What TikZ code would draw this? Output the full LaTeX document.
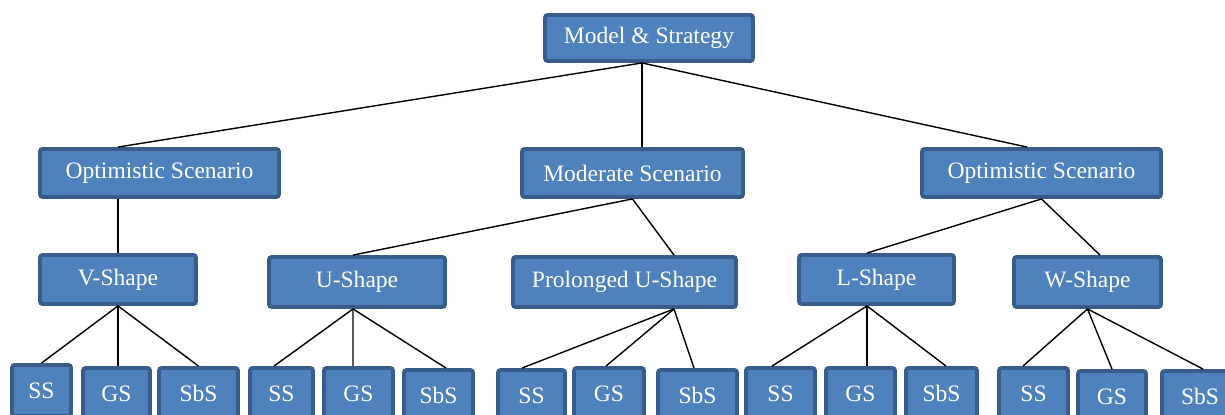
\documentclass[tikz,border=0pt]{standalone}
\usepackage{fontspec}
\setmainfont{Liberation Serif}
\usetikzlibrary{calc}

\definecolor{boxfill}{HTML}{4F81BD}
\definecolor{boxline}{HTML}{385D8A}

\tikzset{
  box/.style={draw=boxline, fill=boxfill, line width=2.2pt, rounded corners=1.5pt,
    text=white, font=\fontsize{13.4}{16}\selectfont, inner sep=0pt},
  leaf/.style={box, minimum height=1.02cm},
  link/.style={black, line width=0.8pt}
}

\begin{document}
\begin{tikzpicture}[x=0.02cm, y=-0.02cm]

\useasboundingbox (0,0) rectangle (1225,415);
\clip (0,0) rectangle (1225,415);

% ── Root and scenarios ──
\node[box, minimum width=4.16cm, minimum height=0.92cm] (root) at (649,38) {Model \& Strategy};
\node[box, minimum width=4.78cm, minimum height=0.96cm] (optL) at (159.5,173) {Optimistic Scenario};
\node[box, minimum width=4.42cm, minimum height=0.96cm] (mod)  at (632.5,173) {Moderate Scenario};
\node[box, minimum width=4.78cm, minimum height=0.96cm] (optR) at (1041.5,173) {Optimistic Scenario};

% ── Recovery shapes ──
\node[box, minimum width=3.12cm, minimum height=0.98cm] (vsh)  at (118,279.5) {V-Shape};
\node[box, minimum width=3.52cm, minimum height=1.00cm] (ush)  at (357,282) {U-Shape};
\node[box, minimum width=4.46cm, minimum height=1.00cm] (push) at (624.5,282) {Prolonged U-Shape};
\node[box, minimum width=3.10cm, minimum height=0.98cm] (lsh)  at (876.5,279.5) {L-Shape};
\node[box, minimum width=2.94cm, minimum height=1.00cm] (wsh)  at (1087.5,282) {W-Shape};

% ── Strategies ──
\node[leaf, minimum width=1.18cm] (vss)  at (41.5,390.5)  {SS};
\node[leaf, minimum width=1.34cm] (vgs)  at (116.5,393.5) {GS};
\node[leaf, minimum width=1.58cm] (vsbs) at (198.5,393.5) {SbS};

\node[leaf, minimum width=1.26cm] (uss)  at (281.5,393.5) {SS};
\node[leaf, minimum width=1.38cm] (ugs)  at (358.5,393.5) {GS};
\node[leaf, minimum width=1.38cm] (usbs) at (438.5,395.5) {SbS};

\node[leaf, minimum width=1.34cm] (pss)  at (531.5,395.5) {SS};
\node[leaf, minimum width=1.40cm] (pgs)  at (609,393.5)   {GS};
\node[leaf, minimum width=1.58cm] (psbs) at (697.5,395.5) {SbS};

\node[leaf, minimum width=1.38cm] (lss)  at (780.5,393.5) {SS};
\node[leaf, minimum width=1.38cm] (lgs)  at (860.5,393.5) {GS};
\node[leaf, minimum width=1.42cm] (lsbs) at (941.5,393.5) {SbS};

\node[leaf, minimum width=1.38cm] (wss)  at (1033.5,393.5) {SS};
\node[leaf, minimum width=1.36cm] (wgs)  at (1112,396.5)   {GS};
\node[leaf, minimum width=1.52cm] (wsbs) at (1200,396.5)   {SbS};

% ── Hub points ──
\coordinate (rhub) at ([xshift=-0.14cm]root.south);
\coordinate (phub) at ([xshift=0.99cm]push.south);
\coordinate (lhub) at ([xshift=-0.19cm]lsh.south);

% ── Connectors ──
\draw[link] (rhub) -- (optL.north -| vsh.north);
\draw[link] (rhub) -- (rhub |- mod.north);
\draw[link] (rhub) -- ([xshift=-0.29cm]optR.north);

\draw[link] (optL.south -| vsh.north) -- (vsh.north);
\draw[link] (mod.south) -- ([xshift=-0.08cm]ush.north);
\draw[link] (mod.south) -- ([xshift=0.99cm]push.north);
\draw[link] (optR.south) -- ([xshift=-0.19cm]lsh.north);
\draw[link] (optR.south) -- ([xshift=0.25cm]wsh.north);

\draw[link] (vsh.south) -- (vss.north);
\draw[link] (vsh.south) -- (vsh.south |- vgs.north);
\draw[link] (vsh.south) -- (vsbs.north);

\draw[link] ([xshift=-0.08cm]ush.south) -- ([xshift=-0.15cm]uss.north);
\draw[link] ([xshift=-0.08cm]ush.south) -- ([xshift=-0.11cm]ugs.north);
\draw[link] ([xshift=-0.08cm]ush.south) -- ([xshift=0.15cm]usbs.north);

\draw[link] (phub) -- ([xshift=-0.19cm]pss.north);
\draw[link] (phub) -- ([xshift=-0.06cm]pgs.north);
\draw[link] (phub) -- ([xshift=-0.07cm]psbs.north);

\draw[link] (lhub) -- ([xshift=-0.17cm]lss.north);
\draw[link] (lhub) -- (lhub |- lgs.north);
\draw[link] (lhub) -- ([xshift=0.09cm]lsbs.north);

\draw[link] (wsh.south) -- ([xshift=-0.21cm]wss.north);
\draw[link] (wsh.south) -- (wgs.north);
\draw[link] (wsh.south) -- ([xshift=0.06cm]wsbs.north);

\end{tikzpicture}
\end{document}
